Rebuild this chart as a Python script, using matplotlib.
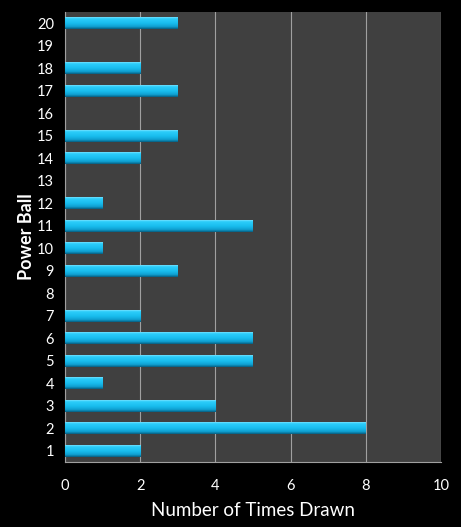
import numpy as np
import matplotlib.pyplot as plt
from matplotlib.colors import LinearSegmentedColormap

balls = list(range(1, 21))
counts = [2, 8, 4, 1, 5, 5, 2, 0, 3, 1, 5, 1, 0, 2, 3, 0, 3, 2, 0, 3]

plt.rcParams['font.family'] = ['Lato', 'DejaVu Sans']

fig = plt.figure(figsize=(4.61, 5.27), dpi=100, facecolor='black')
ax = fig.add_axes([65 / 461, 1 - 462 / 527, (441 - 65) / 461, (462 - 12) / 527])
ax.set_facecolor('#404040')

# shading for the bars: bottom (0) dark -> top (1) light
shade = LinearSegmentedColormap.from_list(
    'shade', [(0, '#075e80'), (0.18, '#0f9fd0'), (0.45, '#19bdee'),
              (0.8, '#2ccdfa'), (0.92, '#6ee0ff'), (1, '#a6eeff')])
grad = np.linspace(0, 1, 64).reshape(-1, 1)

bars = ax.barh(balls, counts, height=0.54, color='#1ec0ec', linewidth=0, zorder=3)
for b in bars:
    if b.get_width() == 0:
        continue
    x0, y0 = b.get_x(), b.get_y()
    im = ax.imshow(grad, cmap=shade, origin='lower', aspect='auto',
                   extent=[x0, x0 + b.get_width(), y0, y0 + b.get_height()], zorder=4)
    im.set_clip_path(b)

ax.set_xlim(0, 10)
ax.set_ylim(0.5, 20.5)
ax.set_xticks(range(0, 11, 2))
ax.set_yticks(balls)
ax.grid(axis='x', color='#a0a0a0', linewidth=0.8, zorder=1)
ax.set_axisbelow(True)

for s in ['top', 'right']:
    ax.spines[s].set_visible(False)
for s in ['left', 'bottom']:
    ax.spines[s].set_color('#a0a0a0')
    ax.spines[s].set_linewidth(0.8)

ax.tick_params(colors='white', labelsize=10.5, length=0, pad=8)
ax.tick_params(axis='x', pad=12)
ax.set_xlabel('Number of Times Drawn', color='white', fontsize=13.5, labelpad=7)
ax.set_ylabel('Power Ball', color='white', fontsize=13, fontweight='bold', labelpad=1)

fig.savefig('out.png', dpi=100, facecolor='black')
